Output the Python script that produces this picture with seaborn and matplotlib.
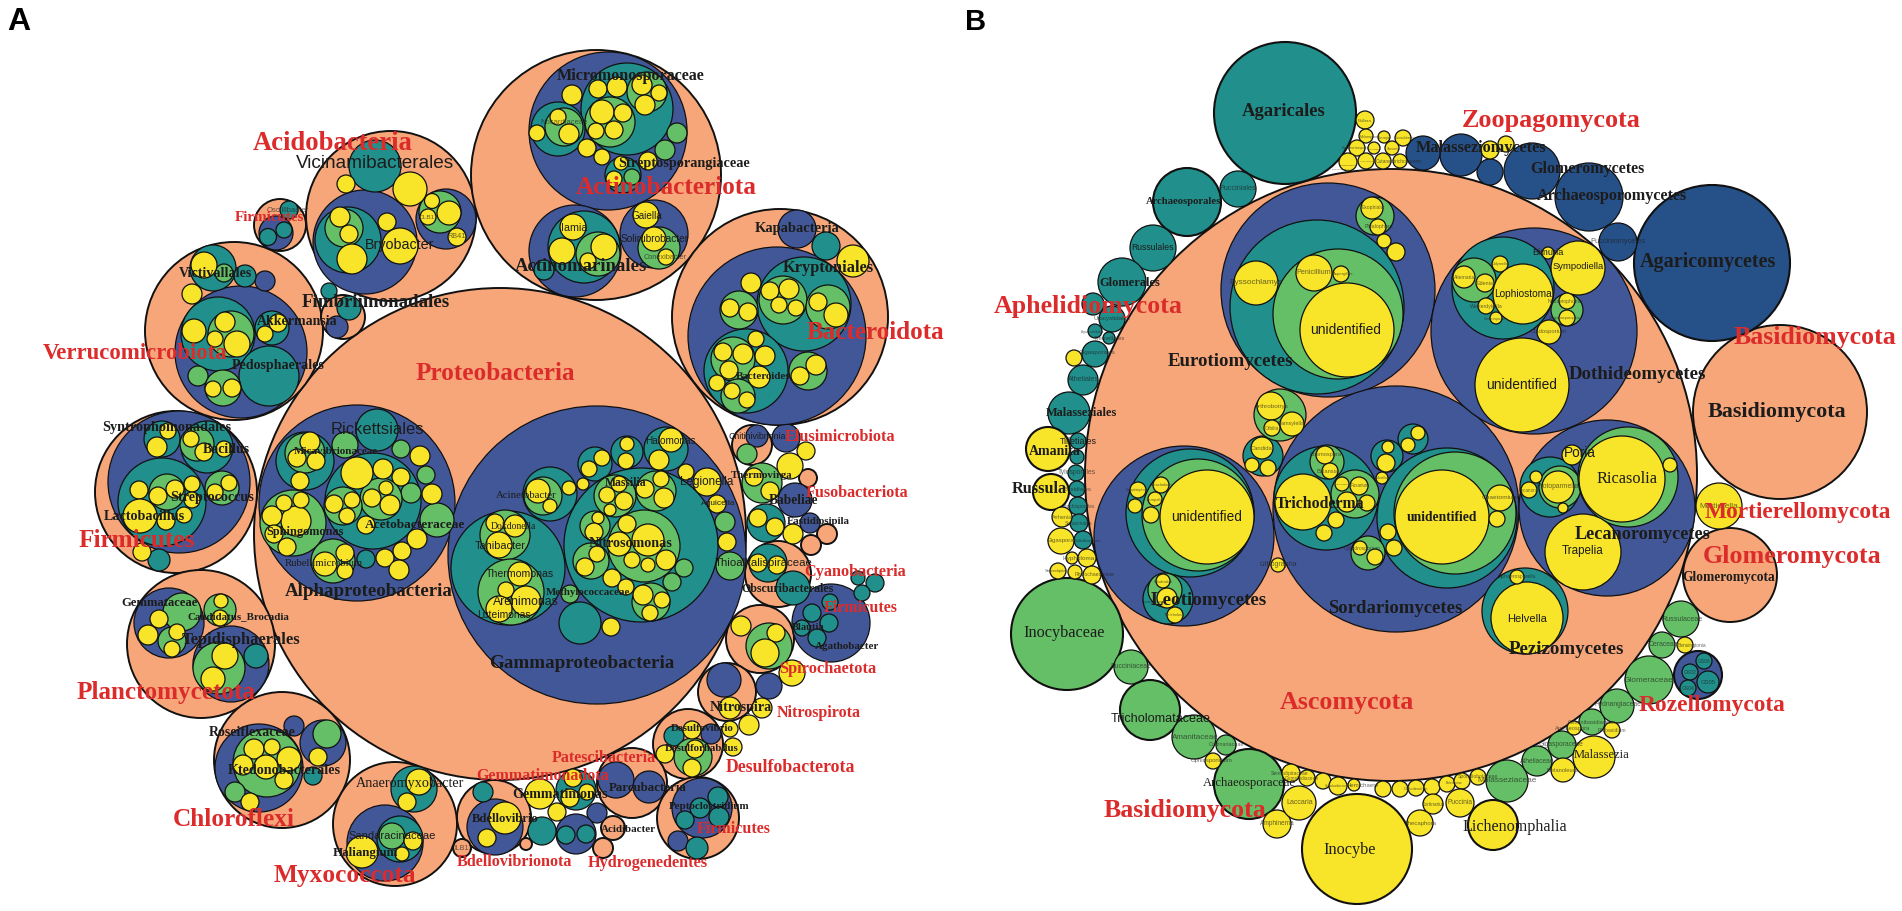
import pandas as pd
import matplotlib
matplotlib.use("Agg")
import matplotlib.pyplot as plt
import seaborn as sns

# circles as (x, y, radius) in reference pixels
salmon = [
    (500,535,246),(391,217,85),(280,226,26),(234,332,89),(343,318,22),(176,493,81),(201,645,74),(282,761,68),
    (395,825,62),(494,818,37),(462,849,9),(596,176,125),(780,318,108),(752,446,20),(808,479,9),(827,535,10),
    (811,546,10),(778,575,33),(760,640,34),(727,693,29),(688,745,35),(632,784,35),(698,819,41),(613,829,12),
    (603,849,10),(526,845,6),
    (1391,476,306),(1780,413,87),(1730,576,47),
]
blue = [
    (276,234,17),(241,353,66),(337,328,11),(265,282,10),(365,243,52),(446,220,30),(179,483,71),(357,504,98),
    (597,556,149),(757,437,11),(786,439,14),(795,501,17),(810,524,10),(831,624,39),(769,687,13),(724,681,17),
    (711,735,10),(616,781,18),(649,788,16),(702,809,30),(678,842,10),(597,814,10),(576,835,20),(495,828,28),
    (169,624,35),(231,665,38),(259,769,44),(294,727,10),(323,744,23),(385,844,38),(797,230,19),(777,337,89),
    (608,132,79),(575,252,46),(654,235,34),
    (1328,291,107),(1396,510,123),(1184,537,90),(1534,332,103),(1607,509,88),(1698,676,24),
]
navy = [
    (1712,264,78),(1618,243,19),(1589,198,34),(1532,172,28),(1490,173,13),(1461,156,21),(1423,154,17),
]
teal = [
    (268,238,8.5),(284,231,8),(289,211,9),(213,269,23),(245,277,11),(218,335,37),(272,329,17),(269,377,30),
    (349,309,12),(329,292,8),(375,167,26),(348,241,33),(162,440,18),(207,448,26),(162,503,44),(159,561,11),
    (377,431,21),(305,462,29),(373,502,48),(366,560,9),(508,569,57),(550,495,27),(595,465,17),(627,453,16),
    (666,450,22),(641,546,77),(580,624,21),(766,524,19),(768,564,19),(793,589,17),(858,579,7),(875,584,9),
    (862,594,8),(830,603,8),(812,614,9),(829,624,9),(802,629,8),(817,639,9),(674,737,10),(718,798,10),
    (700,809,10),(719,818,10),(685,821,9),(697,849,11),(576,791,20),(542,832,14),(566,836,9),(586,835,9),
    (483,793,10),(256,657,12),(313,777,9),(414,790,23),(400,840,23),(826,247,14),(804,305,47),(746,372,42),
    (627,110,46),(558,130,27),(623,176,18),(584,248,36),(544,271,10),
    (1285,114,71),(1187,203,34),(1238,190,18),(1153,249,23),(1122,283,24),(1093,305,11),(1112,320,13),
    (1095,332,7),(1109,339,6),(1095,355,13),(1083,381,15),(1069,414,21),(1078,442,8),(1077,458,7),(1076,474,8),
    (1077,490,8),(1078,507,9),(1079,524,9),(1083,541,9),(1704,662,8),(1690,673,8),(1708,683,11),(1688,689,8),
    (1317,308,87),(1263,457,20),(1326,499,52),(1387,457,16),(1413,440,15),(1447,519,70),(1190,514,64),
    (1168,600,25),(1503,289,51),(1550,488,30),(1525,612,43),
]
green = [
    (224,274,9),(231,335,23),(198,377,10),(223,389,18),(344,229,19),(440,213,21),(197,445,17),(167,493,18),
    (222,489,17),(305,454,20),(345,446,13),(401,450,9),(426,476,9),(411,494,10),(381,500,21),(343,507,19),
    (437,521,17),(333,562,22),(293,524,33),(505,536,25),(511,593,33),(543,497,19),(725,523,10),(730,567,14),
    (615,497,21),(656,492,20),(595,527,15),(644,547,36),(591,562,18),(684,569,9),(672,583,9),(651,603,19),
    (570,595,9),(747,455,10),(762,484,20),(769,647,23),(693,758,19),(182,613,19),(172,642,14),(220,611,16),
    (219,669,26),(267,764,34),(235,793,10),(327,735,14),(392,837,13),(783,301,24),(828,308,22),(739,311,19),
    (733,360,22),(738,397,17),(808,372,19),(647,93,20),(610,123,25),(564,128,19),(677,134,10),(665,151,10),
    (632,178,8),(598,255,22),(659,249,21),
    (1067,635,56),(1131,668,17),(1150,711,30),(1194,738,22),(1226,746,10),(1249,785,35),(1507,782,21),
    (1537,762,15),(1562,746,14),(1592,723,13),(1617,707,17),(1649,681,24),(1662,646,13),(1681,620,18),
    (1338,315,65),(1375,217,19),(1280,416,26),(1327,463,17),(1355,495,24),(1368,554,17),(1455,514,61),
    (1198,516,56),(1165,591,17),(1474,281,22),(1567,311,16),(1560,488,21),(1628,478,50),
]
yellow = [
    (204,266,13),(192,295,10),(194,332,12),(225,323,10),(215,340,8),(237,345,13),(278,324,9),(265,335,8),
    (213,390,8),(232,389,9),(346,185,9),(410,190,17),(340,218,10),(349,235,9),(352,260,15),(387,223,9),
    (400,247,18),(432,202,7.5),(449,214,12),(428,218,8),(457,238,9),(168,432,8),(157,448,10),(191,440,8),
    (204,453,9),(224,450,8),(139,491,9),(158,497,9),(175,490,9),(192,485,8),(192,501,8),(140,517,17),
    (166,522,9),(184,516,8),(215,493,8),(229,484,8),(142,553,9),(310,443,10),(297,459,9),(316,462,9),
    (420,457,10),(432,495,10),(300,482,9),(357,474,16),(383,470,10),(401,478,9),(386,489,7),(372,499,9),
    (390,506,10),(334,505,9),(352,501,8),(347,517,8),(366,526,9),(417,540,10),(402,552,9),(385,559,9),
    (399,571,10),(325,565,12),(345,554,9),(345,572,8),(296,522,15),(272,517,10),(284,504,8),(301,501,8),
    (274,535,9),(287,548,9),(495,524,9),(515,527,11),(499,546,13),(520,575,12),(506,591,8),(526,602,15),
    (499,610,13),(538,492,12),(550,507,7),(569,489,7),(583,485,6),(589,470,8),(602,459,8),(627,445,7),
    (626,462,8),(671,441,12),(659,461,10),(686,473,8),(707,483,14),(717,505,9),(727,543,9),(619,485,8),
    (607,496,8),(624,502,9),(610,511,6),(661,480,8),(645,490,9),(664,499,10),(598,519,6),(594,533,9),
    (627,525,9),(648,541,16),(619,545,12),(632,561,8),(648,566,7),(666,561,10),(597,555,8),(585,568,9),
    (612,579,9),(626,588,8),(643,596,10),(662,601,8),(650,614,8),(611,628,9),(806,452,9),(790,467,13),
    (754,478,9),(770,492,9),(758,519,9),(775,528,9),(793,535,10),(758,564,9),(777,566,9),(741,627,10),
    (776,634,9),(765,654,14),(792,674,13),(730,709,11),(762,709,10),(749,726,10),(692,731,9),(730,730,8),
    (733,748,9),(695,750,9),(692,769,9),(665,755,9),(573,779,9),(570,799,9),(587,793,8),(540,795,15),
    (557,813,9),(505,819,16),(487,839,9),(159,620,9),(148,636,10),(177,633,8),(172,650,8),(221,602,7),
    (220,619,8),(225,657,13),(213,680,12),(254,750,10),(272,748,8),(289,760,12),(266,768,12),(243,766,10),
    (284,781,9),(250,803,9),(318,758,9),(419,783,13),(407,803,9),(413,842,9),(402,855,7),(362,853,16),
    (853,262,16),(770,292,9),(789,290,10),(779,306,8),(796,309,8),(818,303,9),(836,316,12),(751,284,10),
    (730,309,9),(748,313,9),(723,353,9),(743,355,10),(765,357,10),(756,340,8),(729,371,9),(759,378,11),
    (717,384,8),(732,392,8),(747,401,8),(816,366,10),(800,377,9),(642,86,10),(659,94,8),(645,106,10),
    (598,90,9),(617,88,10),(602,113,12),(623,114,9),(596,132,8),(614,131,9),(572,96,10),(558,118,8),
    (569,135,10),(537,134,8),(587,149,9),(602,158,8),(621,164,7),(614,180,8),(648,162,9),(573,228,13),
    (562,252,13),(604,248,13),(588,262,8),(646,216,13),(654,240,12),(666,258,8),
    (1074,359,8),(1048,450,22),(1051,493,18),(1062,518,10),(1061,542,13),(1072,559,6),(1087,559,9),(1058,572,8),
    (1075,573,7),(1092,576,9),(1213,762,8),(1277,825,14),(1299,804,17),(1291,774,9),(1307,779,8),(1323,782,8),
    (1338,787,9),(1354,786,6),(1383,790,8),(1400,790,8),(1416,789,8),(1432,788,8),(1433,805,10),(1420,824,13),
    (1357,850,55),(1447,785,8),(1462,782,8),(1478,778,8),(1460,804,14),(1493,826,25),(1563,771,12),(1594,758,21),
    (1574,729,7),(1612,731,8),(1685,646,8),(1719,507,23),(1490,151,9),(1506,145,8),(1365,121,9),(1366,137,7),
    (1384,138,6),(1403,139,8),(1357,149,8),(1374,149,6),(1392,149,7),(1348,163,9),(1366,162,8),(1383,162,8),
    (1400,162,7),(1347,331,47),(1314,274,18),(1341,275,8),(1256,284,22),(1372,209,11),(1378,228,8),(1384,242,7),
    (1396,253,9),(1271,407,14),(1292,425,12),(1272,429,8),(1262,449,11),(1252,466,7),(1268,469,8),(1325,456,9),
    (1330,472,8),(1342,485,7),(1359,487,9),(1347,503,10),(1367,504,8),(1303,503,28),(1336,521,8),(1324,534,8),
    (1388,448,6),(1386,464,9),(1418,434,7),(1408,446,7),(1382,479,6),(1442,518,47),(1500,499,13),(1497,520,8),
    (1388,533,8),(1394,549,8),(1360,549,7),(1375,558,8),(1278,566,7),(1207,518,47),(1138,491,8),(1161,486,8),
    (1155,500,7),(1135,507,7),(1151,516,8),(1163,582,7),(1167,599,10),(1175,616,8),(1464,278,11),(1485,284,9),
    (1500,265,8),(1523,295,30),(1486,307,8),(1496,319,6),(1548,254,6),(1578,269,27),(1567,302,8),(1567,319,8),
    (1549,333,12),(1522,386,47),(1558,488,16),(1536,478,6),(1529,491,8),(1563,509,5),(1622,480,43),(1670,466,7),
    (1572,456,10),(1583,553,38),(1527,619,36),(1517,578,7),
]

# labels as (text, x centre, y centre, width in reference pixels)
red_labels = [
    ("Proteobacteria",495,374,160),("Acidobacteria",333,143,160),("Firmicutes",269,218,70),
    ("Actinobacteriota",666,188,181),("Bacteroidota",875,333,138),("Verrucomicrobiota",135,354,185),
    ("Firmicutes",137,541,117),("Planctomycetota",166,693,179),("Chloroflexi",234,820,122),
    ("Myxococcota",345,876,142),("Bdellovibrionota",514,862,116),("Hydrogenedentes",648,863,121),
    ("Firmicutes",734,829,74),("Gemmatimonadota",543,776,133),("Patescibacteria",604,758,104),
    ("Desulfobacterota",790,768,129),("Nitrospirota",819,713,84),("Spirochaetota",828,669,97),
    ("Firmicutes",861,608,74),("Cyanobacteria",855,572,102),("Fusobacteriota",857,493,103),
    ("Elusimicrobiota",840,437,111),
    ("Zoopagomycota",1551,120,178),("Aphelidiomycota",1088,307,189),("Basidiomycota",1815,338,163),
    ("Mortierellomycota",1798,513,187),("Glomeromycota",1792,557,179),("Rozellomycota",1712,706,147),
    ("Ascomycota",1347,703,134),("Basidiomycota",1185,811,163),
]
bold_labels = [
    ("Victivallales",215,274,73),("Fimbriimonadales",376,303,149),("Akkermansia",297,322,81),
    ("Pedosphaerales",278,366,93),("Syntrophomonadales",167,428,129),("Bacillus",226,450,47),
    ("Streptococcus",212,498,84),("Lactobacillus",144,517,81),("Micavibrionaceae",336,452,85),
    ("Acetobacteraceae",415,525,101),("Sphingomonas",305,532,77),("Alphaproteobacteria",369,592,168),
    ("Gemmataceae",160,603,77),("Candidatus_Brocadia",238,617,102),("Tepidisphaerales",241,640,119),
    ("Roseiflexaceae",252,733,87),("Ktedonobacterales",284,771,113),("Haliangium",365,853,66),
    ("Bdellovibrio",505,819,67),("Gemmatimonas",560,795,96),("Parcubacteria",648,788,78),
    ("Acidibacter",628,830,55),("Peptoclostridium",709,807,81),("Desulfovibrio",702,729,63),
    ("Desulforhabdus",702,749,74),("Nitrospira",741,708,62),("Agathobacter",847,647,64),("Blautia",808,628,33),
    ("Gammaproteobacteria",582,664,186),("Methylococcaceae",588,593,84),("Obscuribacterales",788,589,93),
    ("Eastidiosipila",818,522,63),("Babeliae",794,501,50),("Thermovirga",762,476,62),("Massilia",626,483,42),
    ("Nitrosomonas",631,544,84),("Micromonosporaceae",631,76,149),("Streptosporangiaceae",684,163,132),
    ("Actinomarinales",581,267,133),("Kapabacteria",797,229,85),("Kryptoniales",828,268,91),("Bacteroides",763,377,55),
    ("Agaricales",1284,112,84),("Archaeosporales",1184,202,76),("Glomerales",1130,283,61),("Malasseziales",1081,413,72),
    ("Amanita",1055,452,52),("Russula",1039,489,55),("Eurotiomycetes",1231,362,126),("Malasseziomycetes",1481,148,131),
    ("Glomeromycetes",1587,169,115),("Archaeosporomycetes",1612,196,151),("Agaricomycetes",1708,262,137),
    ("Dothideomycetes",1637,375,137),("Basidiomycota",1777,412,138),("unidentified",1442,518,71),
    ("Trichoderma",1320,504,89),("Sordariomycetes",1395,609,135),("Lecanoromycetes",1643,535,136),
    ("Pezizomycetes",1566,650,116),("Glomeromycota",1729,578,93),("Leotiomycetes",1209,601,116),
]
serif_labels = [
    ("Rubellimicrobium",324,564,78),("Anaeromyxobacter",410,784,108),("Acinetobacter",526,496,60),
    ("Dokdonella",513,527,45),("Ricasolia",1627,479,61),("Malassezia",1602,755,56),("Lichenomphalia",1515,827,105),
    ("Inocybe",1350,850,52),("Archaeosporaceae",1249,783,92),("Inocybaceae",1064,633,81),
]
sans_labels = [
    ("Vicinamibacterales",375,164,160),("Oscillibacter",288,211,42),("Bryobacter",400,245,69),("OLB17",429,218,20),
    ("RB41",457,237,18),("Rickettsiales",377,430,93),("Sandaracinaceae",392,836,87),("OLB13",462,849,22),
    ("Thioalkalispiraceae",764,563,98),("Chitinivibrionia",757,437,57),("Halomonas",670,441,51),("Legionella",707,482,53),
    ("Aquicella",718,504,34),("Tahibacter",500,546,51),("Thermomonas",520,574,68),("Arenimonas",526,602,66),
    ("Luteimonas",504,615,54),("Nocardiaceae",564,123,47),("Iamia",574,228,26),("Gaiella",647,216,31),
    ("Solirubrobacter",655,239,69),("Conexibacter",665,258,44),
    ("Pucciniales",1238,189,37),("Russulales",1152,248,42),("Urocystidales",1112,319,37),("Agaricostilbales",1092,332,22),
    ("Tremellales",1110,339,32),("Gigasporales",1097,353,37),("Atheliales",1084,380,31),("Tilletiales",1078,442,37),
    ("Byssochlamys",1256,283,53),("Penicillium",1314,273,35),("Aspergillus",1343,274,21),("unidentified",1346,330,71),
    ("Exophiala",1373,208,22),("Phialophora",1379,227,28),("Arthrobotrys",1272,407,34),("Gamsylella",1291,424,27),
    ("Orbilia",1272,429,14),("Candida",1262,449,22),("Pucciniomycetes",1618,242,56),("Sympodiella",1578,267,51),
    ("Lophiostoma",1523,294,58),("Alternaria",1465,278,21),("Edenia",1485,284,17),("Didymella",1500,264,17),
    ("Westerdykella",1486,307,32),("Camarosporium",1495,319,23),("Bimuria",1548,253,31),("Neosetophoma",1565,302,35),
    ("Stagonosporopsis",1565,318,32),("Cladosporium",1549,332,36),("unidentified",1522,385,71),("Poria",1580,453,32),
    ("Protoparmelia",1558,487,42),("Lecanora",1528,491,19),("Chaetomium",1500,498,37),("Trapelia",1583,551,42),
    ("Helvella",1527,619,40),("Sphaerosporella",1517,577,37),("Mortierella",1719,507,39),("Russulaceae",1682,620,41),
    ("Ceraceae",1663,645,30),("Bensingtonia",1692,646,28),("GS06",1704,662,13),("GS02",1690,673,13),("GS05",1708,683,15),
    ("GS04",1688,689,13),("Glomeraceae",1649,681,50),("Hydnangiaceae",1618,705,47),("Geminibasidiaceae",1592,723,48),
    ("Archaeospora",1573,729,35),("Filobasidium",1612,731,28),("Gigasporaceae",1561,745,45),("Atheliaceae",1537,762,35),
    ("Melanoleuca",1563,771,33),("Malasseziaceae",1507,781,59),("Puccinia",1460,803,25),("Cortinarius",1433,805,23),
    ("Boletaceae",1454,783,17),("Sporidiobolaceae",1478,777,40),("Thecaphora",1421,824,32),("Laccaria",1300,803,27),
    ("Amphinema",1277,824,35),("Serendipitaceae",1290,774,37),("Gomphidiaceae",1302,779,33),("Ceratobasidiaceae",1336,786,22),
    ("Hemichaete",1363,786,32),("Oidiodendron",1416,789,25),("Cortinariaceae",1226,745,35),("Ophiosporidium",1212,761,42),
    ("Amanitaceae",1195,738,47),("Tricholomataceae",1161,719,101),("Pucciniaceae",1131,667,41),("unidentified",1207,517,71),
    ("Cladophialophora",1137,490,22),("Tetracladium",1161,485,23),("Lempalia",1155,500,17),("Oidiodendron",1163,582,19),
    ("Pseudogymnoascus",1154,602,25),("Thelebolus",1173,615,19),("Tylosporales",1077,473,38),("Basidiales",1077,490,28),
    ("Trechisporales",1079,507,32),("Arrhenia",1062,518,20),("Sebacinales",1079,524,27),("Gigaspora",1061,541,28),
    ("Bulbillomyces",1088,541,27),("Hypholoma",1079,559,32),("Serendipita",1056,571,22),("Rhizochaetaceae",1095,575,40),
    ("Lithographa",1278,565,38),("Cosmospora",1326,455,32),("Balansia",1328,472,22),("Fusarium",1360,486,19),
    ("Gliocladium",1342,485,13),("Cylindrosporium",1362,549,36),("Mariella",1382,478,12),
    ("Bullera",1365,121,14),("Melampsora",1370,137,20),("Dioszegia",1384,138,12),("Cuniculitrema",1405,138,20),
    ("Symmetrospora",1356,148,28),("Holtermannia",1375,149,12),("Tausonia",1393,149,13),("Geminibasidium",1348,165,17),
    ("Agaricostilbum",1367,161,13),("Cutaneotrichosporon",1399,162,45),("Sympodiomycopsis",1341,170,18),
]
panel_labels = [("A",19,22,23),("B",976,22,21)]

# outer circles of panel B that have a heavier rim
heavy_rim = [(1285,114),(1187,203),(1712,264),(1048,450),(1051,493),(1067,635),(1150,711),(1249,785),
             (1357,850),(1493,826),(1698,676)]

rank_colors = {"salmon": "#F6A678", "blue": "#425797", "navy": "#265088",
               "teal": "#218F8B", "green": "#65BF66", "yellow": "#F8E428"}
ranks = {"salmon": salmon, "blue": blue, "navy": navy, "teal": teal, "green": green, "yellow": yellow}

rows = []
for rank, circles in ranks.items():
    for x, y, r in circles:
        rows.append({"rank": rank, "x": x, "y": y, "r": r})
df = pd.DataFrame(rows)

DPI = 100
df["area"] = (2 * df["r"] * 72 / DPI) ** 2
df["edge"] = df["rank"].map(lambda k: 1.4 if k == "salmon" else 0.9)
for x, y in heavy_rim:
    df.loc[(df["x"] == x) & (df["y"] == y), "edge"] = 1.5

sns.set_theme(style="white")
fig = plt.figure(figsize=(19.02, 9.12), dpi=DPI)
ax = fig.add_axes([0, 0, 1, 1])

sns.scatterplot(data=df, x="x", y="y", hue="rank", palette=rank_colors, s=df["area"].values,
                linewidth=df["edge"].values, edgecolor="#111111", legend=False, ax=ax)

ax.set_xlim(0, 1902)
ax.set_ylim(912, 0)
ax.axis("off")

renderer = fig.canvas.get_renderer()


def put_labels(items, family, weight, color):
    for text, x, y, width in items:
        t = ax.text(x, y, text, family=family, weight=weight, color=color, fontsize=10, ha="center", va="center")
        size = 10 * width / t.get_window_extent(renderer).width
        t.set_fontsize(size)
        if size < 6 and color != "#DC2B2B":
            t.set_alpha(0.65)


put_labels(sans_labels, "Liberation Sans", "normal", "#1c1c1c")
put_labels(serif_labels, "Liberation Serif", "normal", "#1c1c1c")
put_labels(bold_labels, "Liberation Serif", "bold", "#1c1c1c")
put_labels(red_labels, "Liberation Serif", "bold", "#DC2B2B")
put_labels(panel_labels, "Liberation Sans", "bold", "black")

fig.savefig("out.png", dpi=DPI)
